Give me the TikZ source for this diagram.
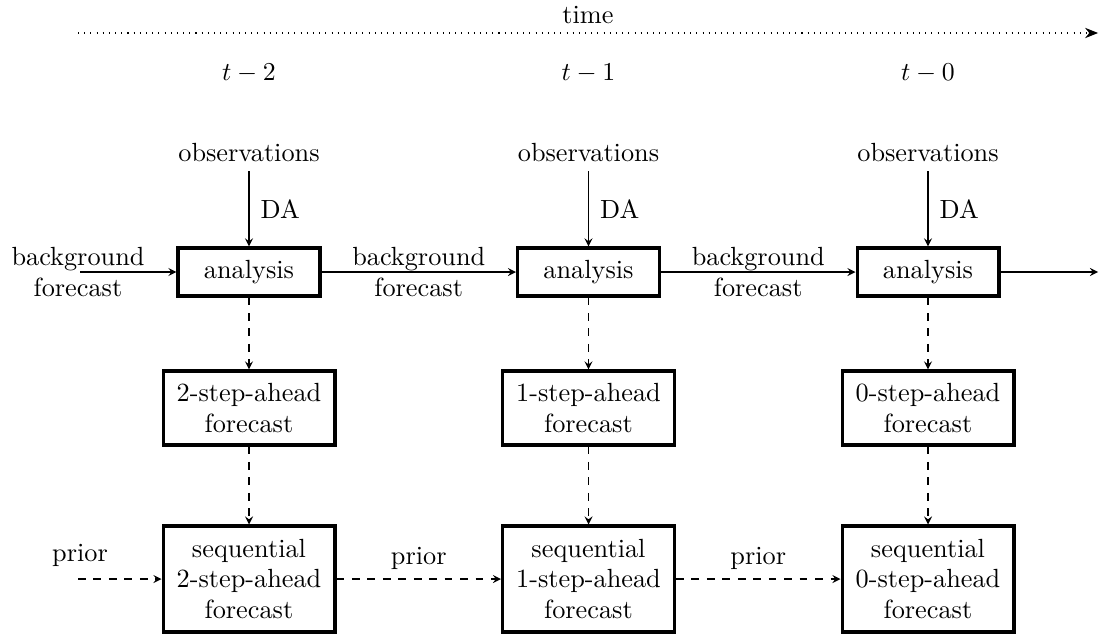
\documentclass[tikz,border=0pt]{standalone}
\usetikzlibrary{arrows.meta}
\begin{document}
\begin{tikzpicture}[x=0.013636cm,y=-0.013636cm,
  every node/.style={font=\fontsize{10.2pt}{11.8pt}\selectfont},
  box/.style={draw,line width=1.2pt,align=center,inner sep=0pt},
  abox/.style={box,minimum width=1.936cm,minimum height=0.655cm},
  sbox/.style={box,minimum width=2.345cm,minimum height=1.009cm},
  qbox/.style={box,minimum width=2.345cm,minimum height=1.445cm},
  arr/.style={-stealth},
  darr/.style={-stealth,dashed},
  lbl/.style={align=center,inner sep=0pt}]
\useasboundingbox (0,0) rectangle (1100,634);

% time axis
\coordinate (ts) at (78,33);
\coordinate (te) at (1098,33);
\draw[dotted,-{Stealth[length=5pt,width=4pt]}] (ts) -- (te);
\node (time) at (588,15) {time};

\node (t2) at (249,73) {$t-2$};
\node (t1) at (588.5,73) {$t-1$};
\node (t0) at (928,73) {$t-0$};

% observations
\node (o1) at (249,153) {observations};
\node (o2) at (588.5,153) {observations};
\node (o3) at (928,153) {observations};

% analysis boxes
\node[abox] (a1) at (249,272) {analysis};
\node[abox] (a2) at (588.5,272) {analysis};
\node[abox] (a3) at (928,272) {analysis};

% step boxes
\node[sbox] (s1) at (249,408) {2-step-ahead\\forecast};
\node[sbox] (s2) at (588.5,408) {1-step-ahead\\forecast};
\node[sbox] (s3) at (928,408) {0-step-ahead\\forecast};

% sequential boxes
\node[qbox] (q1) at (249,579) {sequential\\2-step-ahead\\forecast};
\node[qbox] (q2) at (588.5,579) {sequential\\1-step-ahead\\forecast};
\node[qbox] (q3) at (928,579) {sequential\\0-step-ahead\\forecast};

% DA arrows
\draw[arr] (o1) -- node[right,xshift=1pt] (da1) {DA} (a1);
\draw[arr] (o2) -- node[right,xshift=1pt] (da2) {DA} (a2);
\draw[arr] (o3) -- node[right,xshift=1pt] (da3) {DA} (a3);

% background forecast
\coordinate (bf0) at (80,272);
\node[lbl] (bfl) at (78,272) {background\\forecast};
\draw[arr] (bf0) -- (a1);
\draw[arr] (a1) -- node[lbl] (bf1) {background\\forecast} (a2);
\draw[arr] (a2) -- node[lbl] (bf2) {background\\forecast} (a3);
\coordinate (aend) at (1098,272);
\draw[arr] (a3) -- (aend);

% vertical dashed
\draw[darr] (a1) -- (s1);
\draw[darr] (a2) -- (s2);
\draw[darr] (a3) -- (s3);
\draw[darr] (s1) -- (q1);
\draw[darr] (s2) -- (q2);
\draw[darr] (s3) -- (q3);

% prior
\coordinate (p0) at (78,579);
\node (pl) at (80,555) {prior};
\draw[darr] (p0) -- (q1);
\draw[darr] (q1) -- node[above] (pr1) {prior} (q2);
\draw[darr] (q2) -- node[above] (pr2) {prior} (q3);
\end{tikzpicture}
\end{document}
